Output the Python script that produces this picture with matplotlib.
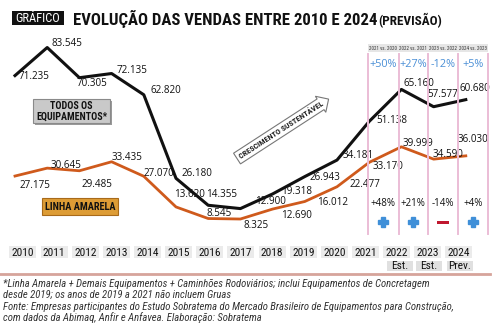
import matplotlib
matplotlib.use("Agg")
import matplotlib.pyplot as plt
from matplotlib import font_manager as fm
from matplotlib.patches import Rectangle
from matplotlib.lines import Line2D
from matplotlib.transforms import blended_transform_factory

# ---------------- data ----------------
years = list(range(2010, 2025))
todos = [71235, 83545, 70305, 72135, 62820, 26180, 14355, 12900, 19318, 26943,
         34181, 51138, 65160, 57577, 60680]
linha = [27175, 30645, 29485, 33435, 27070, 13620, 8545, 8325, 12690, 16012,
         22477, 33170, 39999, 34590, 36030]
cmp_headers = ["2021 vs. 2020", "2022 vs. 2021", "2023 vs. 2022", "2024 vs. 2023"]
cmp_todos = ["+50%", "+27%", "-12%", "+5%"]
cmp_linha = ["+48%", "+21%", "-14%", "+4%"]
cmp_sign = [1, 1, -1, 1]
year_notes = {2022: "Est.", 2023: "Est.", 2024: "Prev."}

title = "EVOLUÇÃO DAS VENDAS ENTRE 2010 E 2024"
subtitle = "(PREVISÃO)"
footnote = [
    "*Linha Amarela + Demais Equipamentos + Caminhões Rodoviários; inclui Equipamentos de Concretagem",
    "desde 2019; os anos de 2019 a 2021 não incluem Gruas",
    "Fonte: Empresas participantes do Estudo Sobratema do Mercado Brasileiro de Equipamentos para Construção,",
    "com dados da Abimaq, Anfir e Anfavea. Elaboração: Sobratema",
]

# ---------------- layout (pixel offsets of value labels) ----------------
todos_off = [(19, 1), (20, -4), (13, 6), (20, -3), (22, -4), (21, -5), (13, -11), (30, -7),
             (24, -2), (20, 1), (21, -5), (23, -1), (18, -6), (9, -12), (9, -11)]
linha_off = [(20, 9), (19, -3), (18, 14), (15, -4), (15, -3), (13, -12), (11, -5), (16, 6),
             (24, 6), (28, 1), (28, -2), (19, 4), (17, -3), (14, -5), (7, -16)]

names = {f.name for f in fm.fontManager.ttflist}
COND = next((n for n in ["Liberation Sans Narrow", "DejaVu Sans Condensed", "Roboto Condensed"]
             if n in names), "DejaVu Sans")
NUM = next((n for n in ["Open Sans", "Noto Sans", "DejaVu Sans"] if n in names), "DejaVu Sans")

W, H = 500, 334
fig = plt.figure(figsize=(W / 100, H / 100), dpi=100)


def fx(x):
    return x / W


def fy(y):
    return 1 - y / H


def rect(x0, y0, x1, y1, **kw):
    fig.add_artist(Rectangle((fx(x0), fy(y1)), fx(x1 - x0), (y1 - y0) / H,
                             transform=fig.transFigure, **kw))


def fit(t, target_w):
    r = fig.canvas.get_renderer()
    bb = t.get_window_extent(r)
    t.set_fontsize(t.get_fontsize() * target_w / bb.width)


# main data axes (full figure, pixel-calibrated limits)
ax = fig.add_axes([0, 0, 1, 1])
ax.axis("off")
ax.set_xlim(2010 - 15 / 32.2, 2010 + 485 / 32.2)
ax.set_ylim((238 - 334) / 0.00228, 238 / 0.00228)

BLACK = "#111111"
ORANGE = "#cf5a1c"
ax.plot(years, todos, color=BLACK, lw=2.2, zorder=3)
ax.plot(years, linha, color=ORANGE, lw=2.0, zorder=3)


def fmt(v):
    return f"{v:,}".replace(",", ".")


for yr, v, (dx, dy) in zip(years, todos, todos_off):
    ax.annotate(fmt(v), (yr, v), xytext=(dx, -dy), textcoords="offset pixels",
                ha="center", va="center", fontsize=7.1, color=BLACK, family=NUM, zorder=5)
for yr, v, (dx, dy) in zip(years, linha, linha_off):
    ax.annotate(fmt(v), (yr, v), xytext=(dx, -dy), textcoords="offset pixels",
                ha="center", va="center", fontsize=7.1, color=BLACK, family=NUM, zorder=5)

# year labels axis
axl = fig.add_axes([0, 0, 1, 1])
axl.axis("off")
axl.set_xlim(2010 - 23 / 31.14, 2010 + 477 / 31.14)
tr = blended_transform_factory(axl.transData, fig.transFigure)
bw = 27 / 31.14
for yr in years:
    axl.add_patch(Rectangle((yr - bw / 2, fy(258)), bw, 12 / H, transform=tr,
                            fc="#ebebeb", ec="none"))
    axl.text(yr, fy(252.5), str(yr), transform=tr, ha="center", va="center",
             fontsize=8.2, family=COND, color="#111")
est_centers = {2022: 400, 2023: 429, 2024: 460}
for yr, lab in year_notes.items():
    cx = est_centers[yr]
    rect(cx - 13, 261, cx + 13, 271, fc="#e0e0e0", ec="none")
    fig.text(fx(cx), fy(266), lab, ha="center", va="center", fontsize=8.2,
             family=COND, color="#111")

# comparison columns
for x in [368, 398.5, 428, 458, 488]:
    fig.add_artist(Line2D([fx(x), fx(x)], [fy(54), fy(234)], transform=fig.transFigure,
                          color="#ebbdd6", lw=1.4, zorder=1))
col_x = [383, 413, 443, 473]
for cx, hdr, p1, p2, s in zip(col_x, cmp_headers, cmp_todos, cmp_linha, cmp_sign):
    rect(cx - 15, 44, cx + 15, 52, fc="#e6e6e6", ec="none")
    fig.text(fx(cx), fy(48), hdr, ha="center", va="center", fontsize=3.6,
             family=COND, color="#333")
    fig.text(fx(cx), fy(64.5), p1, ha="center", va="center", fontsize=7.8,
             family=NUM, color="#4a8fd6")
    fig.text(fx(cx), fy(204), p2, ha="center", va="center", fontsize=7.0,
             family=NUM, color="#111")
    if s > 0:
        fig.add_artist(Line2D([fx(cx)], [fy(222)], transform=fig.transFigure,
                              marker="P", markersize=7.5, color="#3f8fd8", lw=0))
    else:
        rect(cx - 6, 220.5, cx + 6, 224, fc="#c0182f", ec="none")

# series label boxes
rect(35, 101, 112, 125, fc="#9a9a9a", ec="none")
rect(33, 99, 110, 123, fc="#c9c9c9", ec="#8a8a8a", lw=0.8)
fig.text(fx(71.5), fy(111), "TODOS OS\nEQUIPAMENTOS*", ha="center", va="center",
         fontsize=7.2, family=COND, weight="bold", color="#111", linespacing=1.05)
rect(42, 198, 118, 215, fc="#dd9c35", ec="#a86a1a", lw=0.8)
fig.text(fx(80), fy(206.5), "LINHA AMARELA", ha="center", va="center",
         fontsize=7.4, family=COND, weight="bold", color="#111")

# growth arrow
fig.text(fx(281), fy(130), "CRESCIMENTO SUSTENTÁVEL", ha="center", va="center",
         rotation=33, rotation_mode="anchor", fontsize=5.9, family=COND,
         weight="bold", color="#222",
         bbox=dict(boxstyle="rarrow,pad=0.35", fc="white", ec="#777777", lw=0.8))

# title
rect(12, 11, 64, 25, fc="#111111", ec="none")
t0 = fig.text(fx(38), fy(18.3), "GRÁFICO", ha="center", va="center", fontsize=10,
              family=COND, color="white")
t1 = fig.text(fx(73), fy(25), title, ha="left", va="baseline", fontsize=13,
              family=COND, weight="bold", color="#111")
t2 = fig.text(fx(378), fy(25), subtitle, ha="left", va="baseline", fontsize=9,
              family=COND, weight="bold", color="#111")

# separator line
fig.add_artist(Line2D([0, fx(490)], [fy(274), fy(274)], transform=fig.transFigure,
                      color="#d6a49b", lw=2))

# footnote
fts = []
for i, line in enumerate(footnote):
    fts.append(fig.text(fx(3), fy(283.5 + 11.5 * i), line, ha="left", va="center",
                        fontsize=7, family=COND, style="italic", color="#333"))

fig.canvas.draw()
fit(t0, 45)
fit(t1, 303)
fit(t2, 64)
fit(fts[2], 454)
for t in fts:
    t.set_fontsize(fts[2].get_fontsize())

fig.savefig("out.png", dpi=100)
